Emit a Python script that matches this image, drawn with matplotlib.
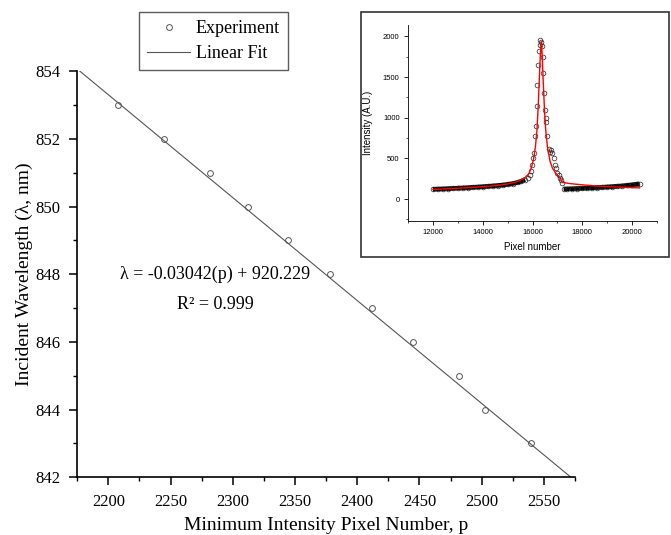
import numpy as np
import matplotlib
matplotlib.use("Agg")
import matplotlib.pyplot as plt
from matplotlib.patches import Rectangle
from matplotlib.ticker import MultipleLocator

# ── Data ──────────────────────────────────────────────────────────────────────
pixel_min = [2208, 2245, 2282, 2312, 2344, 2378, 2412, 2445, 2482, 2503, 2540]
wavelength = [853, 852, 851, 850, 849, 848, 847, 846, 845, 844, 843]
fit_slope = -0.03042
fit_icpt = 920.229
fit_range = [2175, 2575]

# inset spectrum
spec_x = [12000, 12200, 12400, 12600, 12800, 13000, 13200, 13400, 13600, 13800,
          14000, 14200, 14400, 14600, 14800, 15000, 15200, 15400, 15550, 15700,
          15800, 15880, 15930, 15980, 16030, 16070, 16110, 16140, 16170, 16200,
          16230, 16260, 16290, 16320, 16350, 16380, 16410, 16440, 16470, 16500,
          16530, 16560, 16600, 16650, 16700, 16750, 16800, 16850, 16900, 16950,
          17000, 17050, 17100, 17150, 17200, 17250, 17400, 17600, 17800, 18000,
          18200, 18400, 18600, 18800, 19000, 19200, 19400, 19600, 19800, 20000,
          20200, 20300]
spec_y = [120, 123, 125, 128, 131, 134, 137, 140, 144, 148,
          152, 156, 161, 166, 172, 180, 190, 204, 218, 240,
          262, 300, 350, 420, 500, 560, 780, 900, 1150, 1400,
          1650, 1820, 1900, 1950, 1930, 1880, 1750, 1550, 1300, 1100,
          950, 1000, 780, 620, 580, 600, 560, 500, 420, 380,
          320, 290, 260, 230, 200, 123, 125, 127, 129, 132,
          135, 138, 141, 145, 149, 153, 157, 162, 168, 175,
          183, 187]
lor_x = [12000, 12500, 13000, 13500, 14000, 14500, 15000, 15400, 15700, 15850,
         15950, 16050, 16120, 16180, 16230, 16270, 16310, 16350, 16390, 16430,
         16480, 16530, 16600, 16700, 16800, 16950, 17100, 17200, 17500, 18000,
         18500, 19000, 19500, 20000, 20300]
lor_y = [118, 125, 133, 142, 152, 165, 185, 215, 265, 310,
         380, 500, 650, 850, 1150, 1450, 1750, 1940, 1760, 1450,
         1100, 850, 640, 470, 380, 310, 265, 205, 190, 175,
         162, 153, 146, 140, 137]

# ── Figure ────────────────────────────────────────────────────────────────────
plt.rcParams["font.family"] = ["Liberation Serif", "DejaVu Serif"]
fig = plt.figure(figsize=(6.71, 5.35), dpi=100)
ax = fig.add_axes([0.115, 0.108, 0.742, 0.759])

ax.plot(pixel_min, wavelength, "o", ms=4.2, mfc="none", mec="#555555", mew=0.7,
        label="Experiment")
fx = np.array(fit_range, dtype=float)
ax.plot(fx, fit_slope * fx + fit_icpt, "-", color="#555555", lw=0.8, label="Linear Fit")

ax.set_xlim(2175, 2575)
ax.set_ylim(842, 854)
ax.xaxis.set_major_locator(MultipleLocator(50))
ax.xaxis.set_minor_locator(MultipleLocator(25))
ax.yaxis.set_major_locator(MultipleLocator(2))
ax.yaxis.set_minor_locator(MultipleLocator(1))
ax.tick_params(which="major", direction="out", length=6, width=1.1, labelsize=12, pad=6)
ax.tick_params(which="minor", direction="out", length=3, width=1.0)
for s in ["top", "right"]:
    ax.spines[s].set_visible(False)
for s in ["left", "bottom"]:
    ax.spines[s].set_linewidth(1.2)
ax.set_xlabel("Minimum Intensity Pixel Number, p", fontsize=14, labelpad=5)
ax.set_ylabel("Incident Wavelength (\u03bb, nm)", fontsize=14, labelpad=2)

ax.text(2286, 848.0, "\u03bb = -0.03042(p) + 920.229", ha="center", va="center", fontsize=13)
ax.text(2286, 847.1, "R\u00b2 = 0.999", ha="center", va="center", fontsize=13)

fig.legend(loc="upper left", bbox_to_anchor=(139 / 671, 1 - 12 / 535),
           frameon=True, fancybox=False, edgecolor="#333333", fontsize=13,
           numpoints=1, handlelength=2.4, handletextpad=0.3, borderpad=0.45,
           borderaxespad=0, labelspacing=0.45)

# ── Inset ─────────────────────────────────────────────────────────────────────
fig.patches.append(Rectangle((361 / 671, 1 - 257 / 535), 308 / 671, 245 / 535,
                             transform=fig.transFigure, facecolor="white",
                             edgecolor="#333333", lw=1.2, zorder=5))
ins = fig.add_axes([408 / 671, 1 - 221 / 535, 249 / 671, 196 / 535], zorder=6)
ins.patch.set_alpha(0)
sans = ["Liberation Sans", "DejaVu Sans"]
ins.plot(spec_x[:20], spec_y[:20], "-", color="black", lw=3.3, solid_capstyle="butt")
ins.plot(spec_x[55:], spec_y[55:], "-", color="black", lw=3.3, solid_capstyle="butt")
ins.plot(spec_x, spec_y, "o", ms=3.4, mfc="none", mec="#222222", mew=0.5)
ins.plot(lor_x, lor_y, "-", color="red", lw=1.0)
ins.set_xlim(11000, 21000)
ins.set_ylim(-270, 2140)
ins.xaxis.set_major_locator(MultipleLocator(2000))
ins.xaxis.set_minor_locator(MultipleLocator(1000))
ins.yaxis.set_major_locator(MultipleLocator(500))
ins.yaxis.set_minor_locator(MultipleLocator(250))
ins.tick_params(which="major", direction="out", length=3, width=0.6, labelsize=5.5, pad=3)
ins.tick_params(which="minor", direction="out", length=1.5, width=0.5)
for lbl in ins.get_xticklabels() + ins.get_yticklabels():
    lbl.set_family(sans)
for s in ["top", "right"]:
    ins.spines[s].set_visible(False)
for s in ["left", "bottom"]:
    ins.spines[s].set_linewidth(0.6)
ins.set_xlabel("Pixel number", fontsize=7, family=sans, labelpad=4)
ins.set_ylabel("Intensity (A.U.)", fontsize=7, family=sans, labelpad=7)

fig.savefig("out.png", dpi=100)
